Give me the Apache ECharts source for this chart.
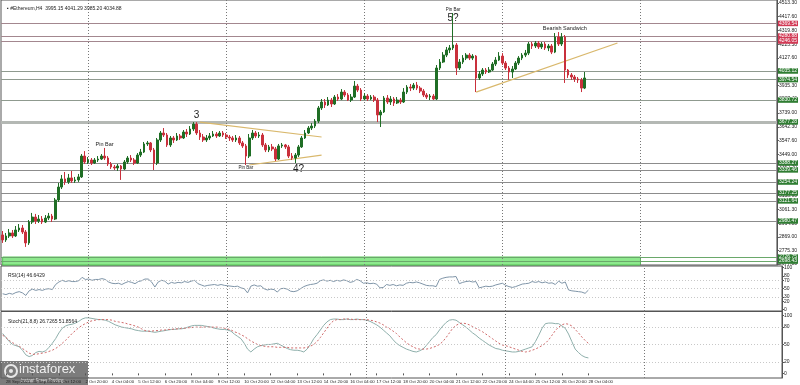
<!DOCTYPE html>
<html><head><meta charset="utf-8">
<script src="https://cdn.jsdelivr.net/npm/echarts@6/dist/echarts.min.js"></script>
<style>html,body{margin:0;padding:0;background:#fff}#c{width:800px;height:385px}</style>
</head><body><div id="c"></div>
<script>
// [open, close, low, high] per H4 bar, from 28 Sep 16:00 to 28 Oct 04:00
const ohlc = [
[2882,2847,2826,2910],[2847,2875,2833,2896],[2875,2896,2861,2924],[2896,2875,2861,2917],[2875,2917,2868,2945],
[2917,2931,2903,2959],[2931,2903,2889,2952],[2903,2826,2798,2917],[2826,2973,2812,2987],[2973,3008,2959,3037],
[3008,2980,2959,3030],[2980,2994,2966,3022],[2994,2973,2959,3015],[2973,3001,2966,3022],[3001,3015,2987,3037],
[3015,2994,2973,3030],[2994,3128,2987,3142],[3128,3219,3114,3248],[3219,3276,3205,3304],[3276,3255,3234,3325],
[3255,3283,3241,3311],[3283,3262,3248,3332],[3262,3269,3248,3290],[3269,3290,3255,3311],[3290,3437,3283,3451],
[3437,3395,3381,3472],[3395,3409,3381,3430],[3409,3388,3374,3423],[3388,3409,3381,3423],[3409,3416,3395,3437],
[3416,3437,3409,3451],[3437,3423,3409,3494],[3423,3381,3367,3437],[3381,3360,3346,3395],[3360,3353,3339,3374],
[3353,3367,3332,3381],[3367,3346,3269,3374],[3346,3395,3339,3409],[3395,3423,3381,3437],[3423,3409,3395,3444],
[3409,3388,3374,3423],[3388,3444,3381,3458],[3444,3465,3430,3487],[3465,3522,3458,3536],[3522,3529,3508,3543],
[3529,3480,3465,3536],[3480,3388,3339,3494],[3388,3550,3374,3564],[3550,3599,3536,3613],[3599,3585,3571,3634],
[3585,3515,3501,3599],[3515,3564,3501,3578],[3564,3550,3529,3578],[3550,3578,3543,3599],[3578,3564,3550,3592],
[3564,3606,3557,3620],[3606,3592,3571,3627],[3592,3627,3585,3648],[3627,3662,3613,3676],[3662,3599,3585,3676],
[3599,3571,3550,3620],[3571,3550,3536,3592],[3550,3564,3536,3585],[3564,3578,3550,3599],[3578,3592,3571,3613],
[3592,3578,3564,3606],[3578,3599,3571,3613],[3599,3585,3571,3613],[3585,3571,3557,3599],[3571,3564,3543,3585],
[3564,3550,3536,3578],[3550,3564,3536,3585],[3564,3529,3515,3578],[3529,3508,3494,3543],[3508,3437,3374,3522],
[3437,3564,3423,3592],[3564,3599,3550,3620],[3599,3578,3564,3613],[3578,3585,3564,3606],[3585,3515,3501,3599],
[3515,3480,3465,3529],[3480,3501,3465,3515],[3501,3487,3472,3522],[3487,3416,3402,3501],[3416,3508,3409,3522],
[3508,3515,3494,3529],[3515,3501,3487,3522],[3501,3437,3423,3515],[3437,3423,3409,3458],[3423,3444,3388,3458],
[3444,3501,3430,3515],[3501,3564,3494,3578],[3564,3599,3557,3620],[3599,3634,3592,3648],[3634,3648,3620,3669],
[3648,3683,3634,3697],[3683,3775,3669,3789],[3775,3817,3761,3838],[3817,3796,3775,3838],[3796,3831,3789,3852],
[3831,3803,3782,3845],[3803,3852,3796,3866],[3852,3838,3824,3873],[3838,3887,3831,3908],[3887,3866,3852,3901],
[3866,3831,3824,3880],[3831,3852,3817,3873],[3852,3929,3845,3965],[3929,3901,3887,3944],[3901,3838,3824,3915],
[3838,3859,3831,3880],[3859,3838,3824,3873],[3838,3852,3831,3866],[3852,3831,3817,3866],[3831,3726,3676,3845],
[3726,3747,3641,3761],[3747,3845,3740,3859],[3845,3817,3803,3866],[3817,3838,3796,3859],[3838,3810,3789,3852],
[3810,3831,3803,3852],[3831,3817,3803,3845],[3817,3887,3810,3915],[3887,3922,3873,3936],[3922,3915,3894,3944],
[3915,3936,3901,3951],[3936,3915,3901,3958],[3915,3894,3880,3929],[3894,3866,3852,3908],[3866,3852,3838,3880],
[3852,3859,3831,3873],[3859,3838,3831,3873],[3838,4056,3831,4077],[4056,4098,4042,4119],[4098,4147,4091,4168],
[4147,4183,4133,4204],[4183,4197,4161,4218],[4197,4218,4183,4443],[4218,4056,4007,4232],[4056,4098,4042,4119],
[4098,4126,4084,4147],[4126,4147,4112,4161],[4147,4126,4112,4161],[4126,4140,4112,4154],[4140,3986,3887,4147],
[3986,4014,3972,4035],[4014,4042,4000,4056],[4042,4028,4014,4056],[4028,4042,4021,4063],[4042,4084,4035,4098],
[4084,4112,4070,4133],[4112,4140,4105,4168],[4140,4091,4077,4161],[4091,4056,4042,4105],[4056,4028,3972,4070],
[4028,4049,3986,4070],[4049,4091,4042,4105],[4091,4126,4077,4140],[4126,4147,4112,4161],[4147,4161,4133,4183],
[4161,4225,4147,4239],[4225,4211,4190,4239],[4211,4232,4197,4246],[4232,4204,4190,4246],[4204,4225,4190,4239],
[4225,4197,4183,4239],[4197,4211,4175,4225],[4211,4168,4154,4225],[4168,4274,4161,4302],[4274,4225,4211,4309],
[4225,4274,4211,4302],[4274,4042,3951,4288],[4042,4007,3986,4049],[4007,3993,3972,4021],[3993,3979,3958,4007],
[3979,3972,3951,3993],[3972,3915,3887,3986],[3915,3986,3908,4028]
];
const rsi = [
38,36,39,37,41,43,40,34,45,49, 46,48,46,49,50,48,60,66,70,67, 69,67,67,69,77,72,73,70,72,72,
74,72,66,63,62,63,60,64,67,65, 62,67,69,73,73,66,54,66,70,68, 61,65,63,65,64,67,65,68,70,62,
59,56,58,59,60,58,60,58,57,56, 55,56,52,50,40,56,59,56,57,50, 47,49,48,42,50,51,49,44,43,45,
50,55,58,60,61,63,69,71,68,70, 67,70,68,71,69,65,67,72,69,63, 64,62,63,61,52,53,60,58,60,57,
59,58,63,65,64,66,64,61,58,57, 57,55,72,75,77,78,78,79,62,65, 67,68,66,67,52,54,56,55,56,59,
61,63,58,55,53,55,58,61,62,63, 67,65,67,64,66,63,64,60,68,63, 66,47,45,44,43,42,39,46.64
];
const stochMain = [
69,62,55,50,48,46,40,32,29,31, 36,38,37,39,45,52,60,70,78,82, 84,85,87,90,94,96,96,95,94,93,
93,92,90,87,84,82,80,79,78,77, 75,74,73,73,73,72,71,72,73,74, 75,76,76,77,77,78,80,82,83,83,
83,82,81,80,78,77,76,76,75,73, 68,64,60,52,42,37,42,46,48,49, 50,50,51,52,49,46,43,41,40,40,
39,37,42,50,60,67,75,83,89,93, 94,94,93,93,94,93,93,94,93,93, 92,90,87,84,80,75,70,65,58,52,
48,45,42,40,38,37,39,42,48,55, 62,67,75,82,88,92,93,92,88,84, 80,75,70,66,61,57,53,49,46,43,
42,40,39,38,37,37,38,40,42,44, 46,55,66,78,86,87,87,86,86,82, 78,68,55,42,36,31,28,26.73
];
const stochSignal = [
66,62,57,53,50,47,43,39,35,33, 33,34,35,36,38,40,43,47,52,57, 63,69,74,79,83,86,89,91,92,93,
93,93,93,92,90,89,88,87,85,84, 82,80,77,74,73,73,74,74,75,75, 76,76,77,77,78,78,79,79,80,80,
80,80,80,80,80,80,79,78,77,75, 72,70,67,64,60,56,53,50,48,47, 46,46,46,45,45,45,45,44,44,44,
44,44,45,47,50,55,62,70,78,86, 91,93,93,94,94,94,93,93,93,93, 93,92,91,89,87,84,80,77,73,69,
63,58,53,49,46,43,42,42,42,43, 45,47,50,55,62,70,78,83,86,87, 86,84,81,78,75,72,68,64,60,56,
52,49,48,46,44,42,40,38,37,38, 40,42,45,48,52,58,66,74,80,84, 86,85,82,76,70,63,57,51.86
];
const priceTicks = [4513.30,4417.60,4319.80,4223.50,4127.60,4030.90,3935.30,3837.40,3739.00,3642.30,3547.60,3449.00,3352.70,3256.20,3158.90,3061.30,2964.80,2869.00,2775.30,2677.80];
const rsiTicks = [0,20,30,50,70,80,100];
const stochTicks = [0,20,50,80,100];
const redLevels = [4369.54,4280.88,4246.05];
const greenLevels = [4035.12,3974.54,3830.72,3677.28,3388.27,3339.46,3254.24,3177.25,3121.64,2980.47,2726.75,2698.43];
const zoneTop = 2726.75;
const xTickIdx = [1,9,17,25,33,41,49,57,65,73,81,89,97,105,113,121,129,137,145,153,161,169,177];
const xTickText = ['28 Sep 2021','30 Sep 04:00','1 Oct 12:00','2 Oct 20:00','4 Oct 04:00','5 Oct 12:00','6 Oct 20:00','8 Oct 04:00','9 Oct 12:00','10 Oct 20:00','12 Oct 04:00','13 Oct 12:00','14 Oct 20:00','16 Oct 04:00','17 Oct 12:00','18 Oct 20:00','20 Oct 04:00','21 Oct 12:00','22 Oct 20:00','24 Oct 04:00','25 Oct 12:00','26 Oct 20:00','28 Oct 04:00'];
const weekSepIdx = [26,68,110,152,194];
const annotations = [
  {text:'3', bar:59, price:3726, big:true},
  {text:'Pin Bar', bar:31, price:3515},
  {text:'Pin Bar', bar:74, price:3353, tiny:true},
  {text:'4?', bar:90, price:3346, big:true},
  {text:'Pin Bar', bar:137, price:4464, tiny:true},
  {text:'5?', bar:137, price:4408, big:true},
  {text:'Bearish Sandwich', bar:171, price:4337}
];
const trendLines = [[[60,3676],[97,3571]],[[75,3374],[97,3444]],[[144,3887],[187,4232]]];
const header = '#Ethereum,H4  3995.15 4041.29 3985.20 4034.88';
const rsiTitle = 'RSI(14) 46.6429';
const stochTitle = 'Stoch(21,8,8) 26.7265 51.8564';

// ---- build ----
const NSLOTS = 236;
const MON = ['Jan','Feb','Mar','Apr','May','Jun','Jul','Aug','Sep','Oct','Nov','Dec'];
const cats = [];
const t0 = Date.UTC(2021, 8, 28, 16);
for (let i = 0; i < NSLOTS; i++) {
  const d = new Date(t0 + i * 4 * 3600 * 1000);
  cats.push(d.getUTCDate() + ' ' + MON[d.getUTCMonth()] + ' ' + String(d.getUTCHours()).padStart(2,'0') + ':00');
}
const tickMap = {};
xTickIdx.forEach((k, j) => tickMap[k] = xTickText[j]);
const FONT = 'Liberation Sans';
const sepLine = weekSepIdx.map(k => ({xAxis: cats[k]}));
const sepStyle = {color:'#777', type:[1,2], width:1};

const levelLines = [];
redLevels.forEach(v => levelLines.push({yAxis: v, lineStyle:{color:'#a3878f', width:1, type:'solid'},
  label:{show:true, position:'end', distance:1, formatter: v.toFixed(2), backgroundColor:'#d23a55', color:'#fff', fontSize:5, padding:[0.5,1,0,1], fontFamily:FONT}}));
greenLevels.forEach((v, j) => {
  let ls = {color:'#8f9a8f', width:1, type:'solid'};
  if (j === 3) ls = {color:'#b4b8b4', width:3, type:'solid'};
  if (j >= 4) ls = {color:'#8c8c8c', width:1, type:'solid'};
  if (j >= 10) ls = {color:'#6aa86a', width:1, type:'solid'};
  levelLines.push({yAxis: v, lineStyle: ls,
    label:{show:true, position:'end', distance:1, formatter: v.toFixed(2), backgroundColor:'#2f7d32', color:'#fff', fontSize:5, padding:[0.5,1,0,1], fontFamily:FONT}});
});
const lastClose = ohlc[ohlc.length-1][1];
levelLines.push({yAxis: lastClose, lineStyle:{opacity:0},
  label:{show:true, position:'end', distance:1, formatter: lastClose.toFixed(2), backgroundColor:'#1d3d1d', color:'#fff', fontSize:5, padding:[0.5,1,0,1], fontFamily:FONT}});
sepLine.forEach(s => levelLines.push(Object.assign({lineStyle: sepStyle, label:{show:false}}, s)));
trendLines.forEach(tl => levelLines.push([{coord:[tl[0][0], tl[0][1]]},{coord:[tl[1][0], tl[1][1]], lineStyle:{color:'#d9b86c', width:1.2, type:'solid'}, label:{show:false}}]));

const markPts = annotations.map(a => ({
  coord:[a.bar, a.price], symbol:'circle', symbolSize:0,
  label:{show:true, position:'inside', formatter:a.text, color:'#222', fontFamily:FONT,
    fontSize: a.big ? 10 : (a.tiny ? 4.5 : 5.5)}
}));

const G = [
  {left:1, top:0, width:781, height:265},
  {left:1, top:266, width:781, height:45},
  {left:1, top:311.5, width:781, height:66.5}
];
const grids = G.map(g => Object.assign({show:true, borderColor:'#555', borderWidth:1, backgroundColor:'#fff', containLabel:false}, g));

const xAxes = [0,1,2].map(gi => ({
  type:'category', gridIndex:gi, data:cats, boundaryGap:true,
  axisLine:{show:false}, splitLine:{show:false},
  axisTick:{show: gi===2, length:2, alignWithLabel:true, interval:(i)=>tickMap[i]!==undefined, lineStyle:{color:'#555'}},
  axisLabel:{show: gi===2, interval:(i)=>tickMap[i]!==undefined, formatter:(v,i)=>tickMap[i]||'', align:'left',
    fontSize:4.3, color:'#222', margin:2, fontFamily:FONT, hideOverlap:false}
}));
const yAx = (gi, min, max, ticks, fmt) => ({
  type:'value', gridIndex:gi, position:'right', min, max, scale:true,
  axisLine:{show:true, lineStyle:{color:'#555'}}, splitLine:{show:false},
  axisTick:{show:true, length:2, customValues:ticks, lineStyle:{color:'#555'}},
  axisLabel:{show:true, customValues:ticks, formatter:fmt, fontSize:5, color:'#222', margin:2, fontFamily:FONT}
});
const yAxes = [
  yAx(0, 2670.8, 4534.4, priceTicks, v => v.toFixed(2)),
  yAx(1, -3, 104, rsiTicks, v => String(v)),
  yAx(2, -8, 107, stochTicks, v => String(v))
];

const dotted = {color:'#c8c8c8', type:[1,2], width:1};
const option = {
  animation:false,
  textStyle:{fontFamily:FONT},
  title:[
    {text:'\u25AA ' + header, left:2, top:1, textStyle:{fontSize:5, fontWeight:'normal', color:'#222', fontFamily:FONT}},
    {text:rsiTitle, left:3, top:268, textStyle:{fontSize:5, fontWeight:'normal', color:'#222', fontFamily:FONT}},
    {text:stochTitle, left:3, top:314, textStyle:{fontSize:5, fontWeight:'normal', color:'#222', fontFamily:FONT}}
  ],
  grid:grids, xAxis:xAxes, yAxis:yAxes,
  series:[
    {type:'candlestick', xAxisIndex:0, yAxisIndex:0, data:ohlc, barWidth:2.2, z:5,
      itemStyle:{color:'#1f6e25', color0:'#c9303c', borderColor:'#1f6e25', borderColor0:'#c9303c', borderWidth:1},
      markLine:{silent:true, symbol:['none','none'], animation:false, data:levelLines},
      markPoint:{silent:true, animation:false, data:markPts},
      markArea:{silent:true, itemStyle:{color:'#8de88d', borderColor:'#52c452', borderWidth:1},
        data:[[{coord:[0, zoneTop]},{coord:[194, 2670.8]}]]}
    },
    {type:'line', xAxisIndex:1, yAxisIndex:1, data:rsi, symbol:'none', lineStyle:{color:'#7f95a8', width:1},
      markLine:{silent:true, symbol:['none','none'], label:{show:false},
        data:[{yAxis:70, lineStyle:dotted},{yAxis:50, lineStyle:dotted},{yAxis:30, lineStyle:dotted}].concat(sepLine.map(s=>Object.assign({lineStyle:sepStyle}, s)))}},
    {type:'line', xAxisIndex:2, yAxisIndex:2, data:stochMain, symbol:'none', lineStyle:{color:'#8fb0ac', width:1},
      markLine:{silent:true, symbol:['none','none'], label:{show:false},
        data:[{yAxis:80, lineStyle:dotted},{yAxis:50, lineStyle:dotted},{yAxis:20, lineStyle:dotted}].concat(sepLine.map(s=>Object.assign({lineStyle:sepStyle}, s)))}},
    {type:'line', xAxisIndex:2, yAxisIndex:2, data:stochSignal, symbol:'none', lineStyle:{color:'#d06a6a', width:1, type:[2,2]}}
  ],
  graphic:[
    {type:'group', left:0, top:361, z:100, children:[
      {type:'rect', shape:{x:0, y:0, width:88, height:24}, style:{fill:'rgba(95,95,95,0.82)'}},
      {type:'circle', shape:{cx:11, cy:10, r:6}, style:{fill:'none', stroke:'#e8e8e8', lineWidth:2}},
      {type:'circle', shape:{cx:11, cy:10, r:2}, style:{fill:'#e8e8e8'}},
      {type:'text', x:19, y:2, style:{text:'instaforex', fill:'#f2f2f2', fontSize:13, fontFamily:'Liberation Sans'}},
      {type:'text', x:21, y:17, style:{text:'Instant Forex Trading', fill:'#dcdcdc', fontSize:4.5, fontFamily:'Liberation Sans'}}
    ]}
  ]
};
const chart = echarts.init(document.getElementById('c'), null, {renderer:'canvas'});
chart.setOption(option);
</script></body></html>
